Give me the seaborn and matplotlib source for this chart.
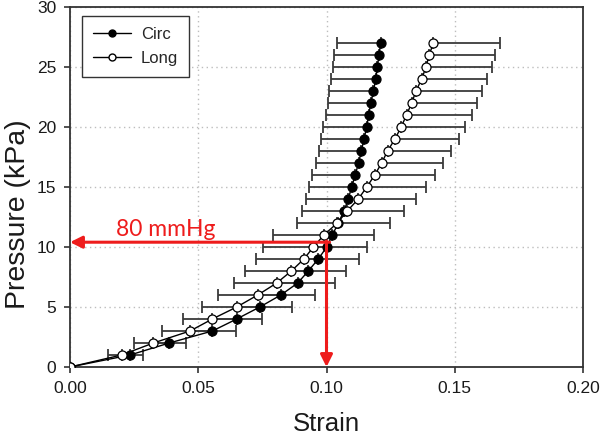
import matplotlib
matplotlib.use("Agg")
import matplotlib.pyplot as plt
import seaborn as sns
import pandas as pd
from matplotlib.lines import Line2D

# ---- data ----
pressure = list(range(0, 28))  # kPa

circ_strain = [0.0, 0.0234, 0.0387, 0.0555, 0.0650, 0.0740, 0.0822, 0.0888, 0.0929, 0.0968,
               0.1001, 0.1023, 0.1046, 0.1068, 0.1085, 0.1098, 0.1112, 0.1125, 0.1136, 0.1146,
               0.1157, 0.1164, 0.1173, 0.1183, 0.1192, 0.1198, 0.1205, 0.1211]
circ_sd = [0.0, 0.0087, 0.0137, 0.0195, 0.0211, 0.0227, 0.0246, 0.0249, 0.0245, 0.0244,
           0.0247, 0.0233, 0.0161, 0.0165, 0.0165, 0.0165, 0.0167, 0.0167, 0.0166, 0.0167,
           0.0169, 0.0167, 0.0168, 0.0172, 0.0174, 0.0171, 0.0175, 0.0171]

long_strain = [0.0, 0.0201, 0.0325, 0.0468, 0.0555, 0.0650, 0.0732, 0.0806, 0.0863, 0.0912,
               0.0949, 0.0990, 0.1042, 0.1081, 0.1124, 0.1157, 0.1188, 0.1215, 0.1238, 0.1267,
               0.1291, 0.1312, 0.1332, 0.1349, 0.1371, 0.1388, 0.1400, 0.1417]
long_sd = [0.0, 0.0085, 0.0127, 0.0178, 0.0195, 0.0217, 0.0223, 0.0227, 0.0213, 0.0215,
           0.0210, 0.0195, 0.0206, 0.0223, 0.0224, 0.0230, 0.0235, 0.0241, 0.0246, 0.0250,
           0.0249, 0.0254, 0.0253, 0.0259, 0.0256, 0.0259, 0.0258, 0.0261]

series_names = ["Circ", "Long"]
x_ticks = [0.00, 0.05, 0.10, 0.15, 0.20]
y_ticks = [0, 5, 10, 15, 20, 25, 30]
mark_strain = 0.10      # strain at 80 mmHg
mark_pressure = 10.4    # kPa level of the red guide
mark_label = "80 mmHg"

df_circ = pd.DataFrame({"strain": circ_strain, "pressure": pressure, "sd": circ_sd})
df_long = pd.DataFrame({"strain": long_strain, "pressure": pressure, "sd": long_sd})

sns.set_theme(style="ticks")
plt.rcParams["font.family"] = ["Liberation Sans", "DejaVu Sans"]

fig = plt.figure(figsize=(6.0, 4.38), dpi=100)
ax = fig.add_axes([70 / 600, 1 - 367 / 438, 513 / 600, 360 / 438])

ax.grid(True, linestyle=(0, (1, 2.5)), color="#bdbdbd", linewidth=1.0)
ax.set_axisbelow(True)

# error bars (one-sided)
ax.errorbar(df_circ["strain"], df_circ["pressure"], xerr=[df_circ["sd"], [0] * len(df_circ)],
            fmt="none", ecolor="#3a3a3a", elinewidth=1.3, capsize=4.0, capthick=1.3, zorder=2)
ax.errorbar(df_long["strain"], df_long["pressure"], xerr=[[0] * len(df_long), df_long["sd"]],
            fmt="none", ecolor="#3a3a3a", elinewidth=1.3, capsize=4.0, capthick=1.3, zorder=2)

sns.lineplot(data=df_circ, x="strain", y="pressure", sort=False, ax=ax, color="black",
             linewidth=1.0, marker="o", markersize=6.5, markerfacecolor="black",
             markeredgecolor="black", markeredgewidth=0.9, zorder=3)
sns.lineplot(data=df_long, x="strain", y="pressure", sort=False, ax=ax, color="black",
             linewidth=1.0, marker="o", markersize=6.5, markerfacecolor="white",
             markeredgecolor="black", markeredgewidth=0.9, zorder=4)

# red guide arrows
red = "#ee1c1c"
ax.annotate("", xy=(0.0, mark_pressure), xytext=(mark_strain + 0.0012, mark_pressure),
            arrowprops=dict(arrowstyle="-|>,head_length=0.6,head_width=0.3", color=red, lw=2.2,
                            shrinkA=0, shrinkB=0), zorder=5, annotation_clip=False)
ax.annotate("", xy=(mark_strain, 0.0), xytext=(mark_strain, mark_pressure + 0.1),
            arrowprops=dict(arrowstyle="-|>,head_length=0.6,head_width=0.3", color=red, lw=2.2,
                            shrinkA=0, shrinkB=0), zorder=5, annotation_clip=False)
ax.text(0.0375, mark_pressure + 0.15, mark_label, color=red, fontsize=16.5,
        family=["Lato", "DejaVu Sans"], ha="center", va="bottom", zorder=6)

ax.set_xlim(0, 0.20)
ax.set_ylim(0, 30)
ax.set_xticks(x_ticks)
ax.set_xticklabels([f"{v:.2f}" for v in x_ticks])
ax.set_yticks(y_ticks)
ax.set_yticklabels([str(v) for v in y_ticks])

for s in ax.spines.values():
    s.set_visible(True)
    s.set_color("#333333")
    s.set_linewidth(1.3)
ax.tick_params(axis="both", direction="out", length=4, width=1.2, color="#333333",
               labelsize=12.5, labelcolor="#1a1a1a", pad=6)

ax.set_xlabel("Strain", fontsize=18.5, color="#1a1a1a", labelpad=11.5)
ax.set_ylabel("Pressure (kPa)", fontsize=20.5, color="#1a1a1a")
ax.yaxis.set_label_coords(-0.076, 0.425)

handles = [
    Line2D([], [], color="black", lw=1.0, marker="o", markersize=5, markerfacecolor="black",
           markeredgecolor="black"),
    Line2D([], [], color="black", lw=1.0, marker="o", markersize=5, markerfacecolor="white",
           markeredgecolor="black"),
]
leg = ax.legend(handles, series_names, loc="upper left", bbox_to_anchor=(0.023, 0.975),
                borderaxespad=0, fontsize=12, handlelength=2.3, handletextpad=0.6,
                frameon=True, fancybox=False, edgecolor="#333333", framealpha=1,
                borderpad=0.65, labelspacing=0.55)
leg.get_frame().set_linewidth(1.0)

fig.savefig("out.png", dpi=100)
